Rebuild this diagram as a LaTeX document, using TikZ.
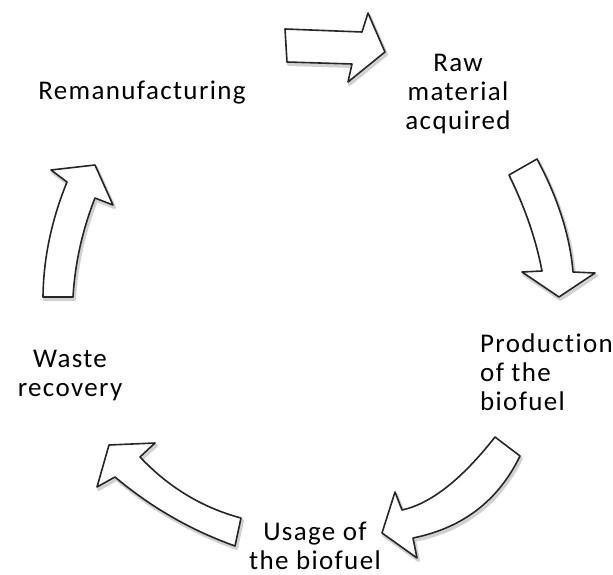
\documentclass[tikz,border=0pt]{standalone}
\usepackage{fontspec}
\setmainfont[LetterSpace=5,Ligatures={NoCommon,NoRare}]{Carlito}
\begin{document}
\begin{tikzpicture}[x=1pt,y=-1pt,
  lbl/.style={font=\fontsize{27}{29}\selectfont, inner sep=0pt, align=center, text=black},
  blockarrow/.style={draw=black!85, fill=white, line width=1.6pt, line join=round},
  arrowshadow/.style={draw=black!18, fill=black!10, line width=3pt, line join=round, shift={(1.5,2.5)}}]
\useasboundingbox (0,0) rectangle (613,575);

% shapes defined as macros of paths
\def\toparrow{(285,29) -- (362,32) -- (368,13) -- (385,52) -- (348,82) -- (352,64) -- (287,62) -- cycle}
\def\rightarrow{(509,175) -- (537,159) .. controls (558,198) and (570,236) .. (573,272) -- (595,273) -- (559,297) -- (522,272) -- (542,271) .. controls (536,239.4) and (525,207.4) .. cycle}
\def\brarrow{(495,437) -- (520,456) .. controls (498.3,500.7) and (462.7,528) .. (413,538) -- (417,558) -- (382,533) -- (395,492) -- (402,510) .. controls (431,503.7) and (462,479) .. cycle}
\def\blarrow{(97,487) -- (109,445) -- (155,443) -- (140,457) .. controls (168.6,487.3) and (202.3,507.7) .. (241,518) -- (235,546) .. controls (191,530.3) and (151,507.3) .. (115,477) -- cycle}
\def\lfarrow{(43,297) -- (73,297) .. controls (75,263.3) and (82.3,230.3) .. (95,198) -- (113,205) -- (95,165) -- (51,170) -- (67,182) .. controls (51.4,220.3) and (43.4,258.7) .. cycle}

\foreach \p in {\toparrow,\rightarrow,\brarrow,\blarrow,\lfarrow}{
  \path[arrowshadow] \p;
}
\draw[blockarrow] \toparrow;
\draw[blockarrow] \rightarrow;
\draw[blockarrow] \brarrow;
\draw[blockarrow] \blarrow;
\draw[blockarrow] \lfarrow;

% anchor=base of a multi-line node sits on its last line's baseline
\node[lbl, anchor=base] (reman) at (142,100) {Remanufacturing};
\node[lbl, anchor=base] (raw) at (458,130) {Raw\\material\\acquired};
\node[lbl, anchor=base west, align=left] (prod) at (480,410) {Production\\of the\\biofuel};
\node[lbl, anchor=base] (waste) at (70,396) {Waste\\recovery};
\node[lbl, anchor=base] (usage) at (315,569) {Usage of\\the biofuel};
\end{tikzpicture}
\end{document}
